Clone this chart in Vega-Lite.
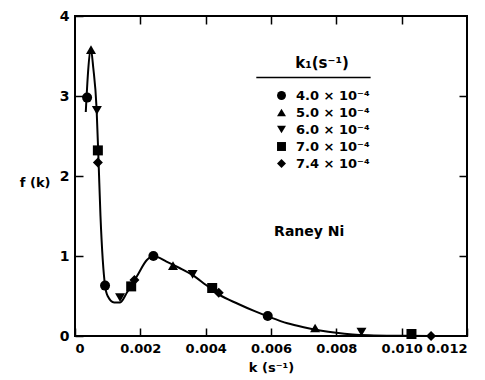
{
  "$schema": "https://vega.github.io/schema/vega-lite/v6.json",
  "width": 392,
  "height": 320,
  "autosize": {"type": "none"},
  "padding": {"left": 75, "top": 16, "right": 18, "bottom": 44},
  "background": "white",
  "config": {
    "view": {"stroke": "black", "strokeWidth": 2},
    "font": "DejaVu Sans",
    "axis": {"grid": false, "domain": false, "tickColor": "black", "tickWidth": 1.5, "tickSize": -8, "labelColor": "black", "labelFontSize": 13, "labelFont": "DejaVu Sans", "labelFontWeight": "bold", "titleColor": "black", "titleFontWeight": "bold", "titleFont": "DejaVu Sans", "titleFontSize": 13}
  },
  "datasets": {
    "curve": [
      {"k": 0.00033, "f": 2.8},
      {"k": 0.0004, "f": 3.3},
      {"k": 0.00048, "f": 3.6},
      {"k": 0.00056, "f": 3.35},
      {"k": 0.00066, "f": 2.85},
      {"k": 0.00072, "f": 2.2},
      {"k": 0.00078, "f": 1.5},
      {"k": 0.00085, "f": 0.95},
      {"k": 0.00092, "f": 0.63},
      {"k": 0.001, "f": 0.5},
      {"k": 0.0012, "f": 0.42},
      {"k": 0.00138, "f": 0.42},
      {"k": 0.0016, "f": 0.55},
      {"k": 0.0019, "f": 0.75},
      {"k": 0.0022, "f": 0.95},
      {"k": 0.0024, "f": 1.0},
      {"k": 0.0028, "f": 0.93},
      {"k": 0.0032, "f": 0.85},
      {"k": 0.0036, "f": 0.76},
      {"k": 0.004, "f": 0.64},
      {"k": 0.0044, "f": 0.52},
      {"k": 0.005, "f": 0.4},
      {"k": 0.0055, "f": 0.31},
      {"k": 0.006, "f": 0.23},
      {"k": 0.0065, "f": 0.16},
      {"k": 0.007, "f": 0.11},
      {"k": 0.0075, "f": 0.07},
      {"k": 0.008, "f": 0.04},
      {"k": 0.0085, "f": 0.02},
      {"k": 0.009, "f": 0.01},
      {"k": 0.01, "f": 0.003},
      {"k": 0.0109, "f": 0.0}
    ],
    "points": [
      {"k": 0.00037, "f": 2.98, "k1": "4.0 × 10⁻⁴"},
      {"k": 0.00049, "f": 3.58, "k1": "5.0 × 10⁻⁴"},
      {"k": 0.00067, "f": 2.82, "k1": "6.0 × 10⁻⁴"},
      {"k": 0.0007, "f": 2.32, "k1": "7.0 × 10⁻⁴"},
      {"k": 0.0007, "f": 2.17, "k1": "7.4 × 10⁻⁴"},
      {"k": 0.00092, "f": 0.63, "k1": "4.0 × 10⁻⁴"},
      {"k": 0.00138, "f": 0.48, "k1": "6.0 × 10⁻⁴"},
      {"k": 0.00172, "f": 0.62, "k1": "7.0 × 10⁻⁴"},
      {"k": 0.00182, "f": 0.7, "k1": "7.4 × 10⁻⁴"},
      {"k": 0.0024, "f": 1.0, "k1": "4.0 × 10⁻⁴"},
      {"k": 0.003, "f": 0.88, "k1": "5.0 × 10⁻⁴"},
      {"k": 0.0036, "f": 0.77, "k1": "6.0 × 10⁻⁴"},
      {"k": 0.0042, "f": 0.6, "k1": "7.0 × 10⁻⁴"},
      {"k": 0.0044, "f": 0.54, "k1": "7.4 × 10⁻⁴"},
      {"k": 0.0059, "f": 0.25, "k1": "4.0 × 10⁻⁴"},
      {"k": 0.00735, "f": 0.1, "k1": "5.0 × 10⁻⁴"},
      {"k": 0.00877, "f": 0.05, "k1": "6.0 × 10⁻⁴"},
      {"k": 0.0103, "f": 0.025, "k1": "7.0 × 10⁻⁴"},
      {"k": 0.0109, "f": 0.0, "k1": "7.4 × 10⁻⁴"}
    ],
    "rule": [{"k1": 0.00555, "k2": 0.00905, "f": 3.23}],
    "label": [{"k": 0.00717, "f": 1.3, "text": "Raney Ni"}]
  },
  "layer": [
    {
      "data": {"name": "curve"},
      "mark": {"type": "line", "color": "black", "strokeWidth": 2, "interpolate": "monotone"},
      "encoding": {
        "x": {"field": "k", "type": "quantitative", "scale": {"domain": [0, 0.012], "nice": false},
          "axis": {"orient": "bottom", "values": [0, 0.002, 0.004, 0.006, 0.008, 0.01, 0.012], "labelExpr": "datum.value == 0 ? '0' : format(datum.value, '.3f')", "labelPadding": 14, "title": "k (s⁻¹)", "titlePadding": 6}},
        "y": {"field": "f", "type": "quantitative", "scale": {"domain": [0, 4], "nice": false},
          "axis": {"orient": "left", "values": [0, 1, 2, 3, 4], "format": "d", "labelPadding": 14, "labelFontSize": 14, "title": "f (k)", "titleAngle": 0, "titleAlign": "right", "titleBaseline": "middle", "titleX": -25, "titleY": 166}}
      }
    },
    {
      "data": {"name": "points"},
      "mark": {"type": "point", "filled": true, "color": "black", "opacity": 1, "size": 100},
      "encoding": {
        "x": {"field": "k", "type": "quantitative",
          "axis": {"orient": "top", "values": [0.002, 0.004, 0.006, 0.008, 0.01], "labels": false, "title": null}},
        "y": {"field": "f", "type": "quantitative",
          "axis": {"orient": "right", "values": [1, 2, 3], "labels": false, "title": null}},
        "shape": {"field": "k1", "type": "nominal",
          "scale": {"domain": ["4.0 × 10⁻⁴", "5.0 × 10⁻⁴", "6.0 × 10⁻⁴", "7.0 × 10⁻⁴", "7.4 × 10⁻⁴"], "range": ["circle", "triangle-up", "triangle-down", "square", "diamond"]},
          "legend": {"title": "k₁(s⁻¹)", "orient": "none", "legendX": 200, "legendY": 40, "titleFontSize": 15, "titleFontWeight": "bold", "titleColor": "black", "titlePadding": 18, "titleAnchor": "middle", "labelFontSize": 13, "labelFontWeight": "bold", "labelColor": "black", "symbolFillColor": "black", "symbolStrokeColor": "black", "symbolSize": 80, "rowPadding": 2, "labelOffset": 8}}
      }
    },
    {
      "data": {"name": "rule"},
      "mark": {"type": "rule", "color": "black", "strokeWidth": 1.5},
      "encoding": {
        "x": {"field": "k1", "type": "quantitative", "axis": null},
        "x2": {"field": "k2"},
        "y": {"field": "f", "type": "quantitative", "axis": null}
      }
    },
    {
      "data": {"name": "label"},
      "mark": {"type": "text", "fontSize": 14, "fontWeight": "bold", "color": "black", "align": "center", "baseline": "middle"},
      "encoding": {
        "x": {"field": "k", "type": "quantitative", "axis": null},
        "y": {"field": "f", "type": "quantitative", "axis": null},
        "text": {"field": "text"}
      }
    }
  ],
  "resolve": {"axis": {"x": "independent", "y": "independent"}}
}
